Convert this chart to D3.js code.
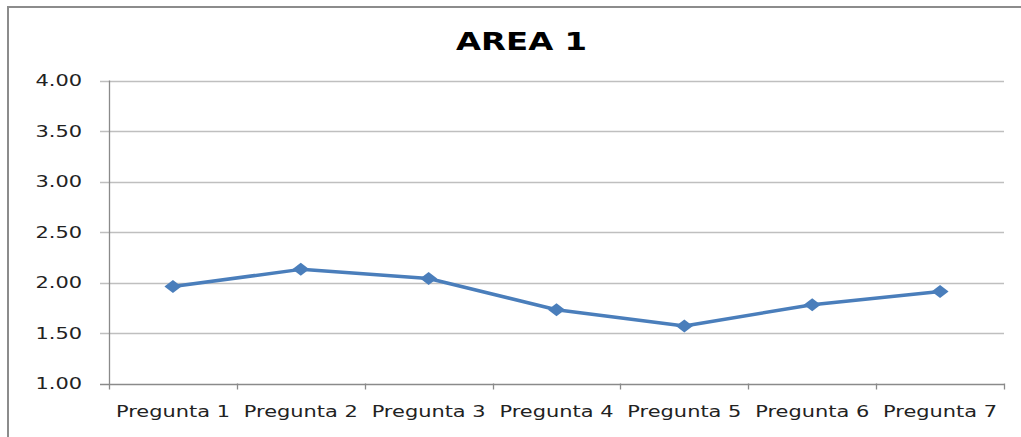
<!DOCTYPE html>
<html><head><meta charset="utf-8">
<script src="https://cdn.jsdelivr.net/npm/d3@7/dist/d3.min.js"></script>
<style>body{margin:0;background:#fff;} svg{display:block;}</style>
</head><body>
<svg id="chart" width="1021" height="437"></svg>
<script>
const title = "AREA 1";
const categories = ["Pregunta 1","Pregunta 2","Pregunta 3","Pregunta 4","Pregunta 5","Pregunta 6","Pregunta 7"];
const values = [1.96, 2.13, 2.04, 1.73, 1.57, 1.78, 1.91];
const yTicks = [1.00, 1.50, 2.00, 2.50, 3.00, 3.50, 4.00];

(function () {
const svg = d3.select("#chart");
const pLeft = 109, pRight = 1004, pTop = 80.5, pBottom = 383.5;
const sx = 1.35;
const font = "DejaVu Sans, Verdana, sans-serif";

// outer border
svg.append("rect").attr("x", 8).attr("y", 7).attr("width", 1030).attr("height", 450)
  .attr("fill", "none").attr("stroke", "#8c8c8c").attr("stroke-width", 2);

const x = d3.scaleBand().domain(categories).range([pLeft, pRight]);
const y = d3.scaleLinear().domain([1, 4]).range([pBottom, pTop]);

// gridlines
svg.append("g").selectAll("line").data(yTicks).join("line")
  .attr("x1", pLeft - 9).attr("x2", pRight)
  .attr("y1", d => Math.round(y(d)) + 0.5).attr("y2", d => Math.round(y(d)) + 0.5)
  .attr("stroke", d => d === 1 ? "#8a8a8a" : "#bfbfbf").attr("stroke-width", 1.3);

// y axis line
svg.append("line").attr("x1", pLeft + 0.5).attr("x2", pLeft + 0.5)
  .attr("y1", pTop).attr("y2", pBottom + 6).attr("stroke", "#8a8a8a").attr("stroke-width", 1.3);

// x ticks at band boundaries
const bounds = categories.map(c => x(c)).concat([x(categories[categories.length-1]) + x.bandwidth()]);
svg.append("g").selectAll("line").data(bounds.slice(1)).join("line")
  .attr("x1", d => Math.round(d) + 0.5).attr("x2", d => Math.round(d) + 0.5)
  .attr("y1", pBottom).attr("y2", pBottom + 6)
  .attr("stroke", "#8a8a8a").attr("stroke-width", 1.3);

// y labels
svg.append("g").selectAll("text").data(yTicks).join("text")
  .attr("transform", d => `translate(82,${y(d) + 5.7}) scale(${sx},1)`)
  .attr("text-anchor", "end")
  .attr("font-family", font).attr("font-size", 15.5).attr("fill", "#222")
  .text(d => d.toFixed(2));

// x labels
svg.append("g").selectAll("text").data(categories).join("text")
  .attr("transform", d => `translate(${x(d) + x.bandwidth()/2},417) scale(${sx},1)`)
  .attr("text-anchor", "middle")
  .attr("font-family", font).attr("font-size", 15.5).attr("fill", "#222")
  .text(d => d);

// title
svg.append("text")
  .attr("transform", `translate(521.5,50) scale(${sx},1)`)
  .attr("text-anchor", "middle")
  .attr("font-family", font).attr("font-weight", "bold").attr("font-size", 24).attr("fill", "#000")
  .text(title);

// line
const line = d3.line().x((d, i) => x(categories[i]) + x.bandwidth()/2).y(d => y(d));
svg.append("path").datum(values).attr("d", line)
  .attr("fill", "none").attr("stroke", "#4a7ebb").attr("stroke-width", 3.5)
  .attr("stroke-linejoin", "round");

// markers (diamonds)
svg.append("g").selectAll("path").data(values).join("path")
  .attr("transform", (d, i) => `translate(${x(categories[i]) + x.bandwidth()/2},${y(d)})`)
  .attr("d", "M0,-6.5 L8.5,0 L0,6.5 L-8.5,0 Z")
  .attr("fill", "#4a7ebb");
})();
</script>
</body></html>
